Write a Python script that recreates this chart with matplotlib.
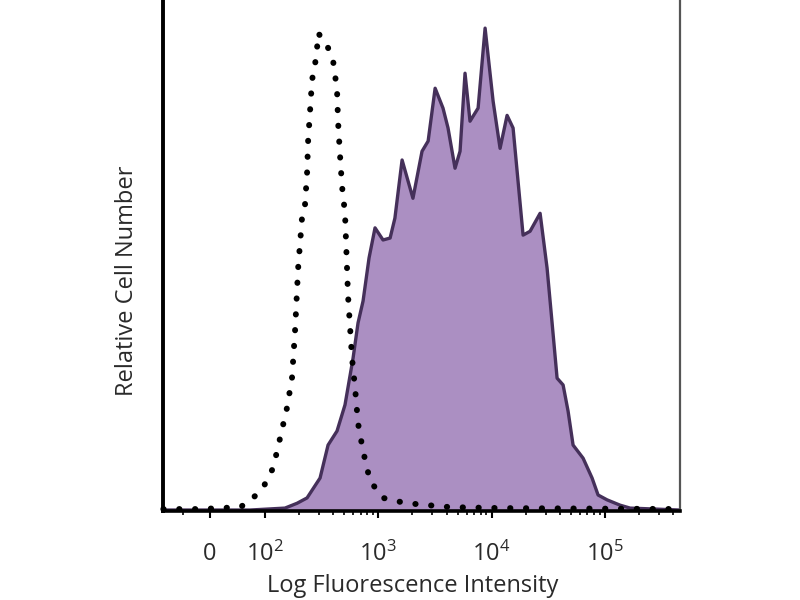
import numpy as np
import matplotlib
matplotlib.use("Agg")
import matplotlib.pyplot as plt
from matplotlib.ticker import FixedLocator, NullFormatter

plt.rcParams['font.family'] = ['Open Sans', 'DejaVu Sans']
plt.rcParams['mathtext.fontset'] = 'custom'
plt.rcParams['mathtext.rm'] = 'Open Sans'
plt.rcParams['mathtext.it'] = 'Open Sans'

# stained sample (filled purple histogram)
stained_x = [-85, -18, 73, 150, 192, 235, 306, 360, 432, 508, 598, 662, 733,
             828, 935, 1100, 1270, 1400, 1620, 2020, 2430, 2750, 3170, 3720,
             4120, 4750, 5260, 5820, 6440, 7590, 8750, 10300, 11860, 13680,
             15450, 18930, 21830, 26750, 30830, 34130, 37780, 42680, 47230,
             52280, 64050, 76920, 86880, 104300, 135900, 166500, 459000]
stained_y = [0.2, 0.2, 0.2, 0.6, 1.6, 2.7, 6.8, 13.6, 16.5, 21.9, 31.5, 38.8,
             43.3, 52.2, 58.4, 55.9, 56.3, 60.4, 72.4, 64.5, 74.2, 76.3, 87.2,
             83.1, 79.0, 70.7, 74.2, 90.3, 80.4, 83.1, 99.6, 84.5, 74.8, 81.6,
             79.0, 56.9, 57.7, 61.4, 50.1, 38.8, 27.4, 26.0, 20.6, 13.6, 10.9,
             6.8, 3.3, 2.3, 1.2, 0.6, 0.2]

# isotype control (dotted histogram)
control_x = [-85, -18, 55, 73, 96, 118, 136, 156, 173, 184, 196, 212, 225,
             235, 240, 250, 260, 276, 288, 294, 352, 398, 415, 432, 441, 459,
             478, 508, 540, 586, 623, 662, 733, 845, 1100, 1550, 2200, 4290,
             11860, 459000]
control_y = [0.4, 0.4, 0.8, 2.1, 4.7, 8.9, 15.1, 21.2, 27.4, 37.1, 50.1, 60.4,
             62.9, 69.7, 76.3, 82.7, 88.9, 92.0, 95.5, 98.6, 96.1, 93.0, 89.9,
             86.8, 80.4, 73.4, 67.0, 61.4, 44.5, 31.5, 25.4, 18.1, 12.4, 6.2,
             2.7, 1.9, 1.4, 0.8, 0.6, 0.4]

tick_vals = [0, 100, 1000, 10000, 100000]
tick_labels = ['0', r'$10^2$', r'$10^3$', r'$10^4$', r'$10^5$']

fig = plt.figure(figsize=(8, 6), dpi=100)
ax = fig.add_axes([163 / 800, 1 - 511 / 600, 517 / 800, 511 / 600])

ax.set_xscale('symlog', linthresh=100, linscale=0.4365)
ax.fill_between(stained_x, stained_y, 0, color='#ab8fc2', linewidth=0)
ax.plot(stained_x, stained_y, color='#45305a', lw=2.4, solid_joinstyle='round')
ax.plot(control_x, control_y, color='black', lw=4.3,
        linestyle=(0, (0.05, 2.6)), dash_capstyle='round', clip_on=False)

ax.set_xlim(-85.6, 459000)
ax.set_ylim(0, 105.4)

ax.xaxis.set_major_locator(FixedLocator(tick_vals))
ax.set_xticklabels(tick_labels, fontsize=17, color='#2a2a2a')
minor = [-50] + [m * 10 ** e for e in range(2, 6) for m in range(2, 10)]
ax.xaxis.set_minor_locator(FixedLocator(minor))
ax.xaxis.set_minor_formatter(NullFormatter())
ax.tick_params(axis='x', which='major', length=5, width=1.5, pad=17)
ax.tick_params(axis='x', which='minor', length=3, width=1.2)
ax.set_yticks([])

ax.spines['top'].set_visible(False)
ax.spines['left'].set_linewidth(2.8)
ax.spines['bottom'].set_linewidth(2.6)
ax.spines['right'].set_linewidth(1.6)
ax.spines['right'].set_color('#555555')

ax.set_xlabel('Log Fluorescence Intensity', fontsize=17, color='#2a2a2a')
ax.xaxis.set_label_coords(0.4836, -0.124)
ax.set_ylabel('Relative Cell Number', fontsize=17, color='#2a2a2a')
ax.yaxis.set_label_coords(-0.046, 0.45)

fig.savefig('out.png', dpi=100)
